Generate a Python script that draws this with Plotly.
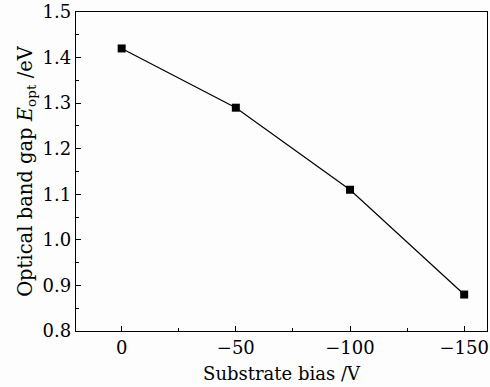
import plotly.graph_objects as go

bias = [0, -50, -100, -150]
band_gap = [1.42, 1.29, 1.11, 0.88]
x_ticks = [0, -50, -100, -150]
x_tick_text = ["0", "\u221250", "\u2212100", "\u2212150"]
y_ticks = [0.8, 0.9, 1.0, 1.1, 1.2, 1.3, 1.4, 1.5]
y_tick_text = ["0.8", "0.9", "1.0", "1.1", "1.2", "1.3", "1.4", "1.5"]

FONT = "DejaVu Serif"
FS = 18

fig = go.Figure()
fig.add_trace(go.Scatter(
    x=bias, y=band_gap, mode="lines+markers",
    line=dict(color="black", width=1.2),
    marker=dict(symbol="square", size=8, color="black"),
    showlegend=False,
))

axis_common = dict(
    showline=True, linecolor="black", linewidth=1.3, mirror=True,
    ticks="inside", ticklen=5, tickwidth=1, tickcolor="black",
    showgrid=False, zeroline=False,
    ticklabeloverflow="allow",
    tickfont=dict(family=FONT, size=FS, color="black"),
)

fig.update_xaxes(
    range=[20, -160], tickvals=x_ticks, ticktext=x_tick_text,
    minor=dict(dtick=25, tick0=0, ticks="inside", ticklen=3, tickcolor="black", tickwidth=1),
    title=dict(text="Substrate bias /V", font=dict(family=FONT, size=FS, color="black"), standoff=10),
    **axis_common,
)
fig.update_yaxes(
    range=[0.8, 1.5], tickvals=y_ticks, ticktext=y_tick_text,
    minor=dict(dtick=0.05, tick0=0.8, ticks="inside", ticklen=3, tickcolor="black", tickwidth=1),
    title=dict(text="Optical band gap <i>E</i><sub>opt</sub> /eV", font=dict(family=FONT, size=19.5, color="black"), standoff=4),
    **axis_common,
)

fig.update_layout(
    width=490, height=387,
    margin=dict(l=76, r=1, t=11, b=56),
    paper_bgcolor="#fdfdfd", plot_bgcolor="#fdfdfd",
)

fig.write_html("out.html")
